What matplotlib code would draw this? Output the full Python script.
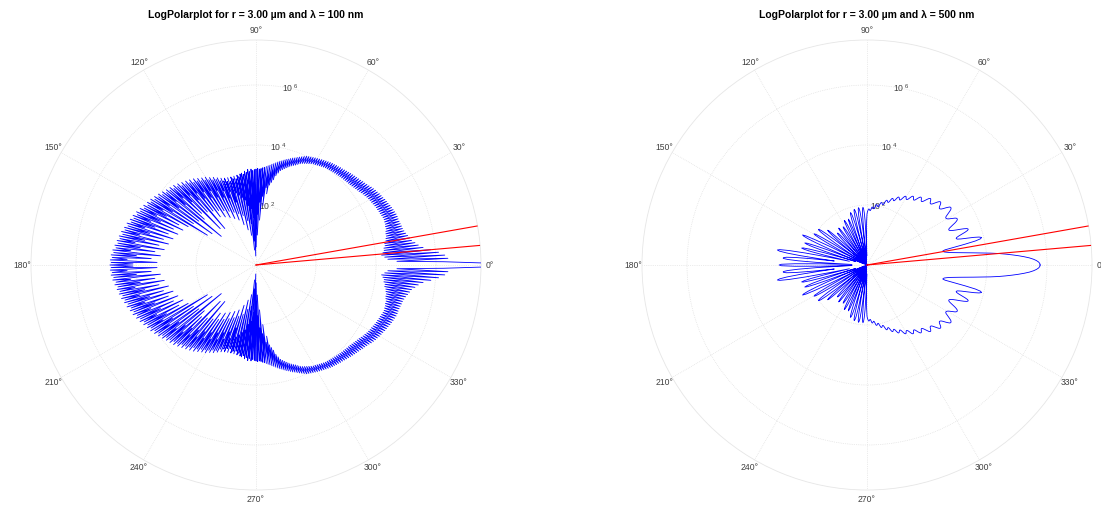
import numpy as np
import matplotlib
matplotlib.use("Agg")
import matplotlib.pyplot as plt

plt.rcParams['font.family'] = ['Liberation Sans', 'DejaVu Sans']
plt.rcParams['mathtext.fontset'] = 'custom'
plt.rcParams['mathtext.rm'] = 'Liberation Sans'

# scattering angle in degrees, one sample every half degree (0..180)
angles = np.arange(361) * 0.5

# log10 of the scattered intensity, r = 3 um, lambda = 100 nm
log_i_100 = [
    7.70, 7.60, 6.25, 4.70, 6.40, 4.40, 6.30, 4.30, 6.10, 4.20,
    5.85, 4.25, 5.60, 4.30, 5.45, 4.30, 5.35, 4.35, 5.25, 4.35,
    5.20, 4.40, 5.15, 4.42, 5.10, 4.45, 5.06, 4.45, 5.03, 4.47,
    5.02, 4.50, 5.00, 4.50, 4.99, 4.52, 4.98, 4.52, 4.98, 4.53,
    4.97, 4.52, 4.95, 4.50, 4.93, 4.48, 4.91, 4.47, 4.89, 4.45,
    4.86, 4.44, 4.84, 4.42, 4.82, 4.40, 4.79, 4.38, 4.77, 4.37,
    4.75, 4.35, 4.72, 4.33, 4.70, 4.30, 4.67, 4.28, 4.64, 4.25,
    4.60, 4.22, 4.57, 4.20, 4.54, 4.18, 4.52, 4.16, 4.49, 4.14,
    4.47, 4.12, 4.45, 4.11, 4.43, 4.10, 4.41, 4.09, 4.39, 4.08,
    4.37, 4.07, 4.35, 4.06, 4.33, 4.05, 4.31, 4.04, 4.30, 4.03,
    4.28, 4.02, 4.27, 4.01, 4.25, 4.00, 4.24, 3.99, 4.22, 3.98,
    4.20, 3.96, 4.18, 3.94, 4.16, 3.92, 4.14, 3.90, 4.12, 3.88,
    4.10, 3.87, 4.08, 3.84, 4.06, 3.81, 4.04, 3.78, 4.02, 3.75,
    4.00, 3.72, 3.96, 3.68, 3.92, 3.63, 3.88, 3.58, 3.84, 3.54,
    3.80, 3.50, 3.77, 3.45, 3.73, 3.40, 3.69, 3.35, 3.66, 3.30,
    3.62, 3.25, 3.58, 3.15, 3.55, 3.05, 3.51, 2.90, 3.47, 2.80,
    3.43, 2.70, 3.40, 2.40, 3.36, 2.60, 3.33, 2.00, 3.30, 2.30,
    3.27, 1.50, 3.25, 2.10, 3.22, 1.00, 3.20, 1.70, 3.22, 0.60,
    3.20, 1.20, 3.18, 0.30, 3.15, 1.60, 3.20, 0.80, 3.12, 1.90,
    3.20, 0.50, 3.10, 1.40, 3.15, 2.00, 3.05, 1.00, 3.10, 2.20,
    3.08, 1.50, 3.00, 2.30, 3.06, 1.20, 2.95, 2.40, 3.05, 1.70,
    2.98, 2.50, 3.05, 1.40, 2.92, 2.20, 3.06, 1.80, 2.95, 2.60,
    3.08, 1.60, 3.00, 2.40, 3.12, 1.90, 3.05, 2.70, 3.18, 1.70,
    3.15, 2.50, 3.25, 2.00, 3.18, 2.80, 3.30, 1.80, 3.25, 2.60,
    3.38, 2.10, 3.30, 2.90, 3.42, 1.90, 3.35, 2.70, 3.48, 2.20,
    3.42, 3.00, 3.55, 2.00, 3.45, 2.80, 3.60, 2.30, 3.52, 3.10,
    3.65, 1.60, 3.58, 2.90, 3.70, 2.40, 3.62, 3.20, 3.76, 1.70,
    3.70, 3.00, 3.82, 2.50, 3.74, 3.30, 3.86, 2.30, 3.80, 3.10,
    3.90, 1.50, 3.84, 3.40, 3.96, 2.40, 3.90, 3.20, 4.02, 1.80,
    3.96, 3.50, 4.08, 2.50, 4.02, 3.30, 4.14, 1.90, 4.08, 3.60,
    4.18, 2.60, 4.12, 3.40, 4.24, 2.90, 4.18, 3.70, 4.30, 2.70,
    4.25, 3.50, 4.36, 3.00, 4.30, 3.80, 4.42, 2.80, 4.36, 3.60,
    4.46, 3.10, 4.40, 3.90, 4.52, 2.90, 4.46, 3.70, 4.56, 3.20,
    4.52, 4.00, 4.62, 3.00, 4.56, 3.80, 4.66, 3.30, 4.62, 4.10,
    4.70, 3.10, 4.66, 3.90, 4.75, 3.40, 4.70, 4.20, 4.80, 3.20,
    4.76, 4.00, 4.84, 3.50, 4.80, 4.30, 4.86, 3.30, 4.83, 4.10,
    4.87,
]

# log10 of the scattered intensity, r = 3 um, lambda = 500 nm
log_i_500 = [
    5.77, 5.76, 5.72, 5.65, 5.55, 5.42, 5.25, 5.06, 4.85, 4.63,
    4.40, 4.13, 3.85, 3.58, 3.35, 3.13, 2.95, 2.80, 2.70, 2.62,
    2.58, 2.57, 2.65, 2.95, 3.35, 3.70, 3.88, 3.93, 3.85, 3.68,
    3.45, 3.25, 3.13, 3.10, 3.12, 3.20, 3.32, 3.45, 3.55, 3.58,
    3.55, 3.45, 3.32, 3.18, 3.07, 3.00, 2.97, 2.97, 3.00, 3.07,
    3.15, 3.24, 3.31, 3.36, 3.38, 3.37, 3.33, 3.26, 3.19, 3.12,
    3.08, 3.06, 3.06, 3.09, 3.15, 3.22, 3.29, 3.35, 3.38, 3.39,
    3.37, 3.31, 3.24, 3.16, 3.10, 3.07, 3.06, 3.08, 3.12, 3.17,
    3.21, 3.23, 3.22, 3.18, 3.12, 3.05, 2.99, 2.95, 2.94, 2.95,
    2.99, 3.03, 3.06, 3.06, 3.03, 2.97, 2.90, 2.84, 2.80, 2.79,
    2.81, 2.85, 2.88, 2.89, 2.87, 2.82, 2.76, 2.70, 2.67, 2.67,
    2.70, 2.74, 2.76, 2.75, 2.71, 2.65, 2.59, 2.56, 2.55, 2.57,
    2.61, 2.63, 2.62, 2.58, 2.52, 2.46, 2.43, 2.43, 2.46, 2.49,
    2.50, 2.48, 2.43, 2.37, 2.33, 2.32, 2.34, 2.37, 2.38, 2.36,
    2.31, 2.25, 2.21, 2.20, 2.22, 2.25, 2.26, 2.24, 2.19, 2.13,
    2.09, 2.08, 2.10, 2.13, 2.14, 2.12, 2.07, 2.02, 1.98, 1.98,
    2.00, 2.03, 2.04, 2.02, 1.97, 1.92, 1.89, 1.89, 1.92, 1.94,
    1.94, 1.90, 1.85, 1.82, 1.82, 1.85, 1.87, 1.86, 1.82, 1.78,
    1.70, 1.45, 1.00, 0.30, 1.00, 1.50, 1.75, 1.88, 1.93, 1.88,
    1.70, 1.20, 0.20, 1.10, 1.55, 1.80, 1.90, 1.93, 1.87, 1.68,
    1.15, 0.10, 1.10, 1.55, 1.78, 1.87, 1.90, 1.85, 1.65, 1.10,
    0.05, 1.00, 1.45, 1.70, 1.80, 1.83, 1.78, 1.60, 1.30, 0.80,
    0.00, 0.85, 1.30, 1.55, 1.65, 1.60, 1.45, 1.10, 0.60, 0.00,
    0.70, 1.20, 1.50, 1.63, 1.67, 1.60, 1.42, 1.05, 0.55, 0.10,
    0.60, 1.05, 1.32, 1.46, 1.50, 1.46, 1.32, 1.05, 0.60, 0.20,
    0.00, 0.50, 0.95, 1.30, 1.50, 1.55, 1.50, 1.35, 1.00, 0.50,
    0.10, 0.55, 0.95, 1.22, 1.38, 1.44, 1.45, 1.40, 1.25, 1.00,
    0.65, 0.25, 0.00, 0.55, 1.05, 1.42, 1.68, 1.75, 1.70, 1.52,
    1.20, 0.70, 0.15, 0.75, 1.30, 1.70, 1.92, 2.00, 2.00, 1.90,
    1.65, 1.25, 0.70, 0.30, 0.05, 0.70, 1.30, 1.72, 1.98, 2.05,
    2.00, 1.82, 1.50, 1.00, 0.45, 0.00, 0.75, 1.40, 1.90, 2.25,
    2.37, 2.32, 2.15, 1.85, 1.40, 0.80, 0.10, 0.80, 1.40, 1.85,
    2.12, 2.20, 2.12, 1.90, 1.50, 0.95, 0.40, 0.90, 1.50, 1.95,
    2.20, 2.25, 2.15, 1.90, 1.45, 0.90, 0.60, 1.30, 2.10, 2.65,
    2.95, 3.03, 2.95, 2.70, 2.25, 1.60, 1.10, 1.80, 2.40, 2.70,
    2.80, 2.80, 2.65, 2.30, 1.70, 0.90, 0.50, 1.50, 2.40, 2.85,
    2.93,
]

detector_angles = [5, 10]
ring_decades = [2, 4, 6]
r_max = 7.5

panels = [
    (log_i_100, 'LogPolarplot for r = 3.00 µm and λ = 100 nm', 31),
    (log_i_500, 'LogPolarplot for r = 3.00 µm and λ = 500 nm', 642),
]


def full_circle(theta_deg, values):
    # the pattern is symmetric, so mirror the upper half to 180..360
    th = np.asarray(theta_deg, dtype=float)
    v = np.asarray(values, dtype=float)
    th_all = np.concatenate([th, 360 - th[::-1][1:]])
    v_all = np.concatenate([v, v[::-1][1:]])
    return np.deg2rad(th_all), v_all


W, H = 1101, 507
fig = plt.figure(figsize=(W / 100, H / 100), dpi=100)

for vals, title, left_px in panels:
    ax = fig.add_axes([left_px / W, 17 / H, 450 / W, 450 / H], projection='polar')
    th, rr = full_circle(angles, vals)
    ax.plot(th, rr, color='b', lw=0.6, zorder=3)
    for a in detector_angles:
        ax.plot([0, np.deg2rad(a)], [0, r_max], color='r', lw=0.8, zorder=4)

    ax.set_rlim(0, r_max)
    ax.set_rgrids(ring_decades, labels=[])
    ax.set_thetagrids(range(0, 360, 30))
    ax.grid(color='#d9d9d9', lw=0.5, ls=':')
    ax.spines['polar'].set_color('#e6e6e6')
    ax.spines['polar'].set_linewidth(0.6)
    ax.tick_params(axis='x', labelsize=6.2, labelcolor='#404040', pad=-4)

    for d in ring_decades:
        ax.text(np.deg2rad(79), d, '10$^{\\ %d}$' % d, fontsize=6.2,
                color='#404040', ha='center', va='center', zorder=2)

    fig.text((left_px + 225) / W, 1 - 15 / H, title, ha='center', va='center',
             fontsize=7.5, fontweight='bold')

fig.savefig('out.png', dpi=100)
